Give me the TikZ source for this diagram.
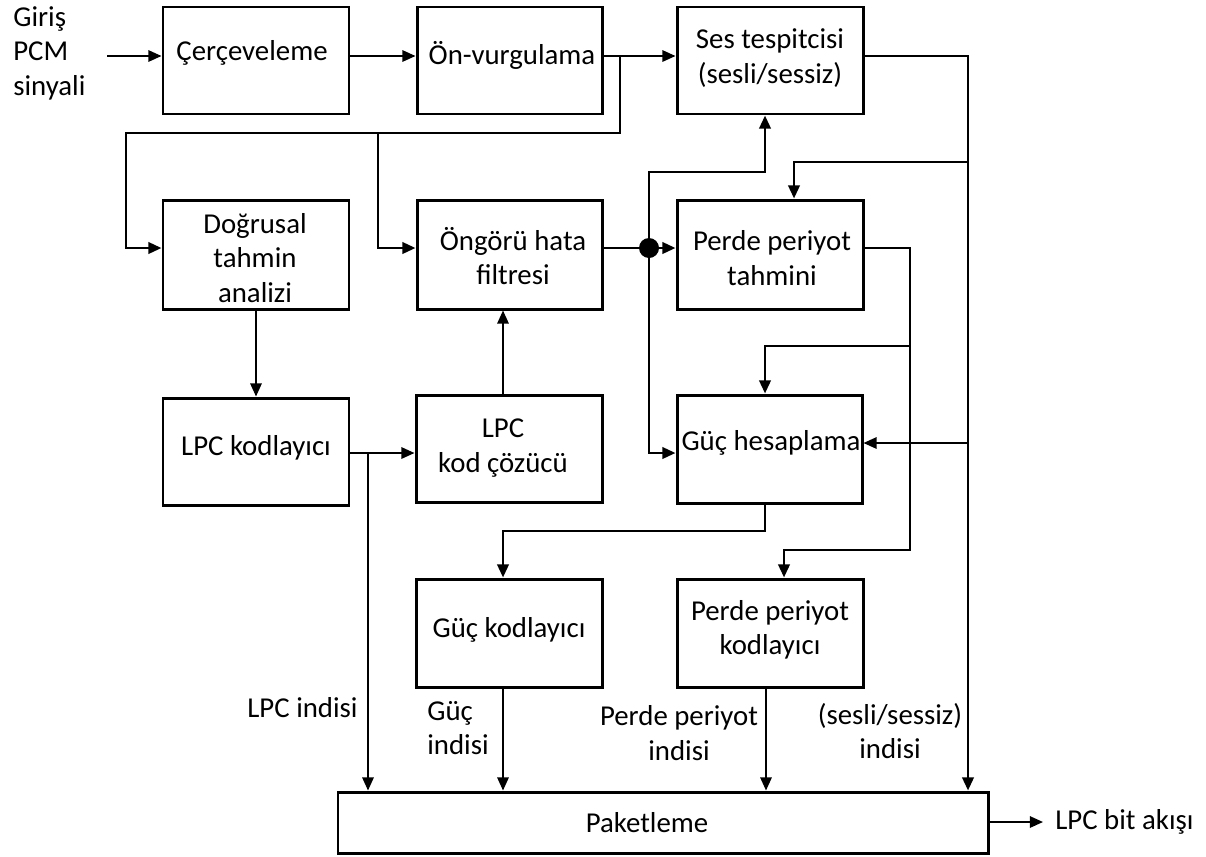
\documentclass[tikz,border=0pt]{standalone}
\usepackage{fontspec}
\setmainfont{Carlito}
\usetikzlibrary{arrows.meta,fit}
\begin{document}
\begin{tikzpicture}[x=0.02cm,y=-0.02cm,
  box/.style={draw, line width=1.7pt, inner sep=0pt},
  lbl/.style={font=\fontsize{16.4}{19.6}\selectfont, align=center, inner sep=0pt},
  conn/.style={line width=1.1pt},
  bus/.style={line width=1.5pt},
  arr/.style={-{Triangle[length=7.5pt,width=6.5pt]}},
  dotn/.style={circle, fill, inner sep=0pt, minimum size=0.4cm}]
\useasboundingbox (0,0) rectangle (1206,856);

% blocks
\node[box, fit={(163,7)(349,114)}]   (cer)  {};
\node[box, fit={(417,7)(602,114)}]   (onv)  {};
\node[box, fit={(677,7)(863,114)}]   (ses)  {};
\node[box, fit={(163,200)(349,309)}] (dog)  {};
\node[box, fit={(417,200)(602,309)}] (ong)  {};
\node[box, fit={(677,200)(863,309)}] (ppt)  {};
\node[box, fit={(163,398)(349,505)}] (lpck) {};
\node[box, fit={(416,395)(602,502)}] (lpcd) {};
\node[box, fit={(677,395)(862,503)}] (guch) {};
\node[box, fit={(416,579)(602,687)}] (guck) {};
\node[box, fit={(677,579)(863,687)}] (ppk)  {};
\node[box, fit={(338,792)(988,853)}] (pak)  {};

% block texts
\node[lbl] (t-cer)  at (252,53)  {Çerçeveleme};
\node[lbl] (t-onv)  at (512,55)  {Ön-vurgulama};
\node[lbl] (t-ses)  at (770,58)  {Ses tespitcisi\\(sesli/sessiz)};
\node[lbl] (t-dog)  at (255,258) {Doğrusal\\tahmin\\analizi};
\node[lbl] (t-ong)  at (513,256) {Öngörü hata\\filtresi};
\node[lbl] (t-ppt)  at (772,258) {Perde periyot\\tahmini};
\node[lbl] (t-lpck) at (256,448) {LPC kodlayıcı};
\node[lbl] (t-lpcd) at (503,448) {LPC\\kod çözücü};
\node[lbl] (t-guch) at (771,443) {Güç hesaplama};
\node[lbl] (t-guck) at (509,630) {Güç kodlayıcı};
\node[lbl] (t-ppk)  at (770,630) {Perde periyot\\kodlayıcı};
\node[lbl] (t-pak)  at (647,823) {Paketleme};

% free labels
\node[lbl, anchor=west, align=left] (t-in) at (13,53) {Giriş\\PCM\\sinyali};
\node[lbl, anchor=east] (t-lpci) at (358,708) {LPC indisi};
\node[lbl, anchor=west, align=left] (t-guci) at (427,728) {Güç\\indisi};
\node[lbl] (t-ppi) at (679,733) {Perde periyot\\indisi};
\node[lbl] (t-vui) at (890,731) {(sesli/sessiz)\\indisi};
\node[lbl, anchor=west] (t-out) at (1055,822) {LPC bit akışı};

% helper rows and columns
\coordinate (yA) at (0,56);
\coordinate (yD) at (0,248);
\coordinate (yE) at (0,453);
\coordinate (yG) at (0,443);
\coordinate (in)   at (107,56);
\coordinate (b1)   at (620,56);
\coordinate (bus)  at (620,133);
\coordinate (busL) at (126,133);
\coordinate (busM) at (378,133);
\coordinate (c1)   at (765,172);
\coordinate (x968) at (968,0);
\coordinate (c2)   at (968,162);
\coordinate (x794) at (794,0);
\coordinate (c4)   at (910,550);
\coordinate (x784) at (784,0);
\coordinate (c6)   at (910,346);
\coordinate (x765) at (765,0);
\coordinate (c8)   at (503,531);
\coordinate (c9)   at (368,453);
\coordinate (x766) at (766,0);
\coordinate (out)  at (1043,822);
\node[dotn] (dot) at (649,248) {};

% top chain
\draw[conn,arr] (in) -- (in -| cer.west);
\draw[conn,arr] (cer.east |- yA) -- (onv.west |- yA);
\draw[conn,arr] (onv.east |- yA) -- (ses.west |- yA);

% pre-emphasised signal to analysis and error filter
\draw[bus,arr] (b1) -- (bus) -- (busL) |- (dog.west |- yD);
\draw[bus,arr] (busM) |- (ong.west |- yD);

% residual distribution
\draw[bus] (ong.east |- yD) -- (dot);
\draw[bus,arr] (dot) -- (ppt.west |- yD);
\draw[bus,arr] (dot) |- (c1) -- (c1 |- ses.south);
\draw[bus,arr] (dot) |- (guch.west |- yE);

% voiced/unvoiced decision
\draw[bus,arr] (ses.east |- yA) -| (x968 |- pak.north);
\draw[bus,arr] (c2) -| (x794 |- ppt.north);
\draw[conn,arr] (x968 |- yG) -- (guch.east |- yG);

% pitch period estimate
\draw[bus,arr] (ppt.east |- yD) -| (c4) -| (x784 |- ppk.north);
\draw[bus,arr] (c6) -| (x765 |- guch.north);

% power
\draw[bus,arr] (x765 |- guch.south) |- (c8) -- (c8 |- guck.north);

% LPC path
\draw[conn,arr] (dog.south) -- (lpck.north);
\draw[conn,arr] (lpck.east |- yE) -- (lpcd.west |- yE);
\draw[conn,arr] (c9) -- (c9 |- pak.north);
\draw[conn,arr] (c8 |- lpcd.north) -- (c8 |- ong.south);

% indices into the packer
\draw[conn,arr] (c8 |- guck.south) -- (c8 |- pak.north);
\draw[conn,arr] (x766 |- ppk.south) -- (x766 |- pak.north);
\draw[conn,arr] (pak.east |- out) -- (out);
\end{tikzpicture}
\end{document}
